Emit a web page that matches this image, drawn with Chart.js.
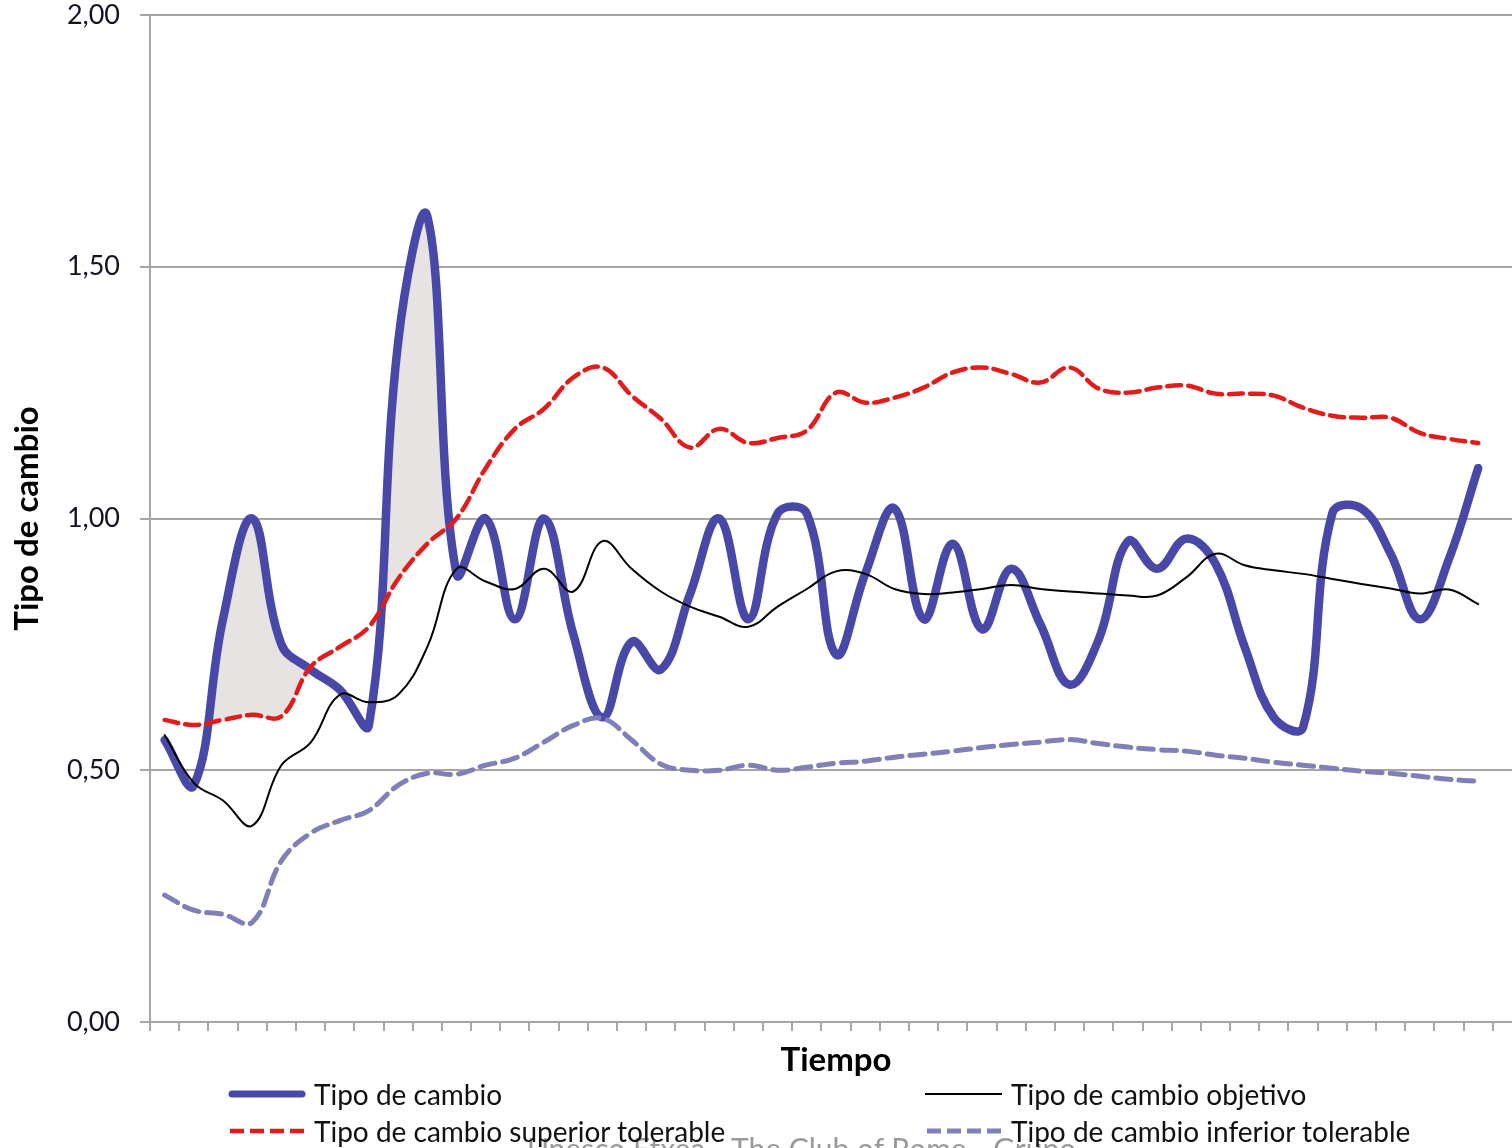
<!DOCTYPE html>
<html lang="es">
<head>
<meta charset="utf-8">
<title>Tipo de cambio</title>
<script src="https://cdn.jsdelivr.net/npm/chart.js@4.4.1/dist/chart.umd.min.js"></script>
<style>
  html, body { margin: 0; padding: 0; background: #fff; overflow: hidden; }
  #wrap { position: relative; width: 1512px; height: 1148px; overflow: hidden; }
  #grafico { position: absolute; left: 0; top: 0; }
  .item { position: absolute; display: flex; align-items: center; height: 36px;
          font-family: Lato, sans-serif; font-size: 28px; color: #111; white-space: nowrap; }
  .item svg { margin-right: 8px; }
  #pie { position: absolute; left: 527px; top: 1133px; font-family: Lato, sans-serif;
         font-size: 30px; line-height: 30px; color: #9a9a9a; white-space: nowrap; }
</style>
</head>
<body>
<div id="wrap">
  <canvas id="grafico" width="1522" height="1148"></canvas>
  <div id="pie">Unesco Etxea - The Club of Rome - Grupo</div>
  <div class="item" style="left:228px;top:1076px">
    <svg width="78" height="12"><line x1="4" y1="6" x2="74" y2="6" stroke="#4848a8" stroke-width="7" stroke-linecap="round"/></svg>Tipo de cambio
  </div>
  <div class="item" style="left:228px;top:1113px">
    <svg width="78" height="12"><line x1="2" y1="6" x2="76" y2="6" stroke="#e41b1b" stroke-width="4.5" stroke-dasharray="14 6"/></svg>Tipo de cambio superior tolerable
  </div>
  <div class="item" style="left:925px;top:1076px">
    <svg width="78" height="12"><line x1="0" y1="6" x2="77" y2="6" stroke="#000" stroke-width="2"/></svg>Tipo de cambio objetivo
  </div>
  <div class="item" style="left:925px;top:1113px">
    <svg width="78" height="12"><line x1="2" y1="6" x2="76" y2="6" stroke="#8080b8" stroke-width="5" stroke-dasharray="14 6"/></svg>Tipo de cambio inferior tolerable
  </div>
</div>
<script>
// Periodos (eje Tiempo sin etiquetas); el ultimo queda vacio como en el original
const periodos = Array.from({ length: 47 }, (_, i) => String(i + 1));

// Series
const tipoCambio = [
  0.56, 0.47, 0.80, 1.00, 0.75, 0.70, 0.66, 0.59, 1.35, 1.60,
  0.89, 1.00, 0.80, 1.00, 0.77, 0.605, 0.755, 0.70, 0.85, 1.00,
  0.80, 1.01, 1.01, 0.73, 0.89, 1.02, 0.80, 0.95, 0.78, 0.90,
  0.79, 0.67, 0.76, 0.955, 0.90, 0.96, 0.91, 0.745, 0.605, 0.585,
  1.01, 1.02, 0.93, 0.80, 0.92, 1.10
];
const cambioObjetivo = [
  0.57, 0.475, 0.44, 0.39, 0.51, 0.555, 0.65, 0.635, 0.65, 0.745,
  0.90, 0.875, 0.86, 0.90, 0.855, 0.955, 0.90, 0.855, 0.825, 0.805,
  0.785, 0.825, 0.86, 0.895, 0.89, 0.86, 0.85, 0.853, 0.86, 0.868,
  0.86, 0.855, 0.851, 0.847, 0.847, 0.883, 0.93, 0.907, 0.897, 0.89,
  0.88, 0.87, 0.861, 0.851, 0.859, 0.83
];
const superiorTolerable = [
  0.60, 0.59, 0.60, 0.61, 0.607, 0.705, 0.745, 0.785, 0.88, 0.95,
  1.00, 1.10, 1.178, 1.218, 1.28, 1.30, 1.244, 1.198, 1.141, 1.178,
  1.15, 1.16, 1.175, 1.25, 1.23, 1.24, 1.26, 1.29, 1.30, 1.287,
  1.27, 1.30, 1.258, 1.25, 1.26, 1.264, 1.248, 1.248, 1.244, 1.22,
  1.204, 1.20, 1.20, 1.17, 1.158, 1.15
];
const inferiorTolerable = [
  0.252, 0.222, 0.214, 0.198, 0.32, 0.375, 0.40, 0.42, 0.47, 0.494,
  0.492, 0.51, 0.524, 0.556, 0.589, 0.603, 0.56, 0.512, 0.50, 0.50,
  0.51, 0.50, 0.506, 0.514, 0.518, 0.526, 0.532, 0.538, 0.545, 0.551,
  0.556, 0.561, 0.553, 0.546, 0.541, 0.538, 0.53, 0.524, 0.516, 0.51,
  0.504, 0.498, 0.494, 0.488, 0.482, 0.478
];
const marcasY = [0, 0.5, 1, 1.5, 2];

const gris = '#a6a6a6';

new Chart(document.getElementById('grafico'), {
  type: 'line',
  data: {
    labels: periodos,
    datasets: [
      {
        label: 'Tipo de cambio',
        data: tipoCambio,
        borderColor: '#4848a8',
        borderWidth: 8.5,
        order: 4,
        fill: { target: 2, above: '#e8e3e3', below: 'rgba(0,0,0,0)' }
      },
      {
        label: 'Tipo de cambio objetivo',
        data: cambioObjetivo,
        borderColor: '#000000',
        borderWidth: 2,
        order: 1
      },
      {
        label: 'Tipo de cambio superior tolerable',
        data: superiorTolerable,
        borderColor: '#e41b1b',
        borderWidth: 4.5,
        borderDash: [14, 7],
        order: 2
      },
      {
        label: 'Tipo de cambio inferior tolerable',
        data: inferiorTolerable,
        borderColor: '#8080b8',
        borderWidth: 5,
        borderDash: [15, 8],
        order: 3
      }
    ]
  },
  options: {
    responsive: false,
    animation: false,
    devicePixelRatio: 1,
    layout: { padding: { top: 0, left: 0, right: 0, bottom: 0 } },
    elements: {
      point: { radius: 0, hoverRadius: 0 },
      line: { tension: 0.4, borderCapStyle: 'round', fill: false }
    },
    plugins: {
      legend: { display: false },
      tooltip: { enabled: false },
      filler: { drawTime: 'beforeDatasetsDraw' }
    },
    scales: {
      x: {
        type: 'category',
        offset: true,
        grid: { offset: true, drawOnChartArea: false, drawTicks: true, tickLength: 9, color: gris, lineWidth: 2 },
        border: { color: gris, width: 2 },
        ticks: { display: false },
        title: {
          display: true, text: 'Tiempo', color: '#000',
          font: { family: 'Lato', size: 33, weight: 'bold' },
          padding: { top: 0, bottom: 68 }
        },
        afterFit: s => { s.height = 126; }
      },
      y: {
        min: 0, max: 2,
        afterBuildTicks: s => { s.ticks = marcasY.map(v => ({ value: v })); },
        grid: { color: gris, lineWidth: 2, drawTicks: true, tickLength: 10 },
        border: { color: gris, width: 2 },
        ticks: {
          padding: 20, color: '#141420',
          font: { family: 'Lato', size: 27 },
          callback: v => v.toFixed(2).replace('.', ',')
        },
        title: {
          display: true, text: 'Tipo de cambio', color: '#000',
          font: { family: 'Lato', size: 33, weight: 'bold' },
          padding: { top: 8, bottom: 0 }
        },
        afterFit: s => { s.width = 150; s.paddingTop = 15; s.paddingBottom = 0; }
      }
    }
  }
});
</script>
</body>
</html>
